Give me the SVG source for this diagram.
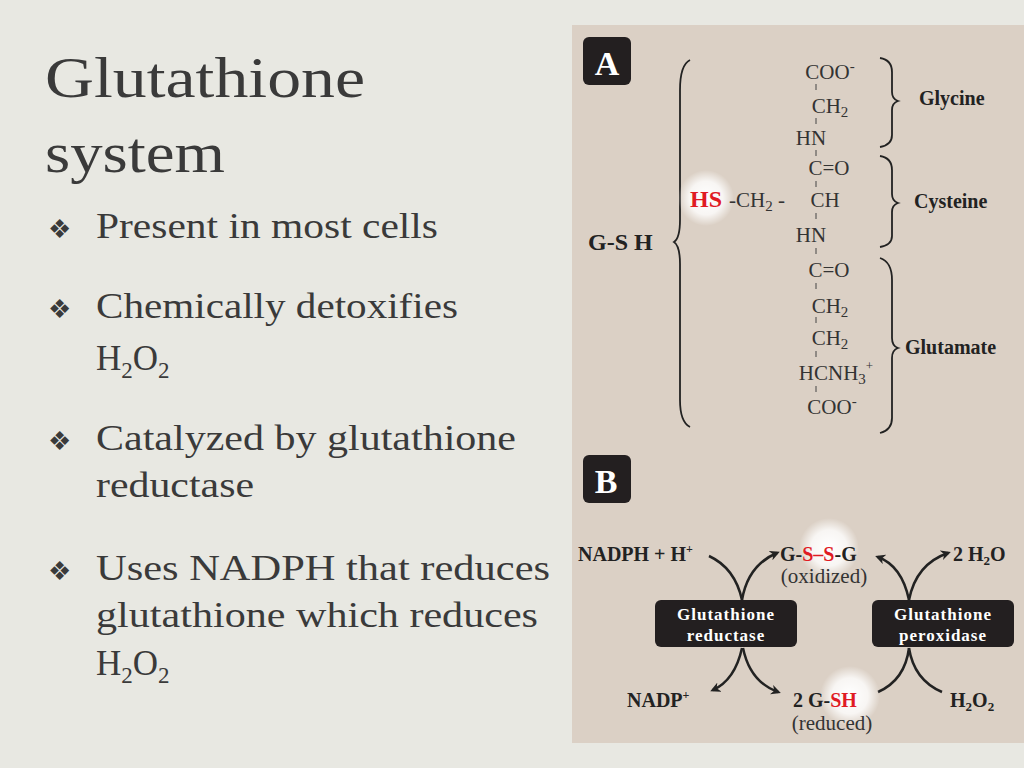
<svg xmlns="http://www.w3.org/2000/svg" width="1024" height="768" viewBox="0 0 1024 768">
<defs>
<style>
.t{font-family:"Liberation Serif",serif;fill:#3a3a3a}
.ch{font-family:"Liberation Serif",serif;fill:#333;font-size:21px}
.b{font-family:"Liberation Serif",serif;font-weight:bold;fill:#222}
.w{font-family:"Liberation Serif",serif;font-weight:bold;fill:#fff;font-size:17px;letter-spacing:1px}
.tk{stroke:#444;stroke-width:1}
.br{fill:none;stroke:#222;stroke-width:1.8}
.ar{fill:none;stroke:#222;stroke-width:2.5;marker-end:url(#ah)}
.ln{fill:none;stroke:#222;stroke-width:2.5}
</style>
<marker id="ah" viewBox="0 0 10 10" refX="7" refY="5" markerWidth="4" markerHeight="4" orient="auto"><path d="M0,0 L10,5 L0,10 L3,5 z" fill="#222"/></marker>
<radialGradient id="gl"><stop offset="0" stop-color="#fff"/><stop offset="0.6" stop-color="#fff" stop-opacity="0.8"/><stop offset="1" stop-color="#fff" stop-opacity="0"/></radialGradient>
</defs>
<rect width="1024" height="768" fill="#e8e8e2"/>
<g id="text">
<text class="t" x="45" y="97" font-size="56" textLength="320" lengthAdjust="spacingAndGlyphs">Glutathione</text>
<text class="t" x="45" y="172" font-size="56" textLength="180" lengthAdjust="spacingAndGlyphs">system</text>
<g font-size="35">
<text class="t" x="48" y="238" font-size="26">❖</text><text class="t" x="96" y="238" textLength="342" lengthAdjust="spacingAndGlyphs">Present in most cells</text>
<text class="t" x="48" y="318" font-size="26">❖</text><text class="t" x="96" y="318" textLength="362" lengthAdjust="spacingAndGlyphs">Chemically detoxifies</text>
<text class="t" x="96" y="370">H<tspan font-size="23" dy="8">2</tspan><tspan dy="-8">O</tspan><tspan font-size="23" dy="8">2</tspan></text>
<text class="t" x="48" y="450" font-size="26">❖</text><text class="t" x="96" y="450" textLength="420" lengthAdjust="spacingAndGlyphs">Catalyzed by glutathione</text>
<text class="t" x="96" y="497" textLength="158" lengthAdjust="spacingAndGlyphs">reductase</text>
<text class="t" x="48" y="580" font-size="26">❖</text><text class="t" x="96" y="580" textLength="454" lengthAdjust="spacingAndGlyphs">Uses NADPH that reduces</text>
<text class="t" x="96" y="627" textLength="442" lengthAdjust="spacingAndGlyphs">glutathione which reduces</text>
<text class="t" x="96" y="675">H<tspan font-size="23" dy="8">2</tspan><tspan dy="-8">O</tspan><tspan font-size="23" dy="8">2</tspan></text>
</g>
</g>
<rect x="572" y="25" width="452" height="718" fill="#dbd0c5"/>
<g id="panelA">
<rect x="583" y="37" width="48" height="48" rx="6" fill="#231f20"/>
<text x="607" y="75" text-anchor="middle" font-family="Liberation Serif,serif" font-weight="bold" font-size="34" fill="#fff">A</text>
<text class="b" x="588" y="250" font-size="24">G-S H</text>
<path class="br" d="M690,60 Q680,65 680,90 L680,220 Q680,238 674,242 Q680,246 680,264 L680,400 Q680,422 690,427"/>
<circle cx="706" cy="198" r="28" fill="url(#gl)"/>
<text x="690" y="207" font-family="Liberation Serif,serif" font-weight="bold" font-size="24" fill="#e01b24">HS</text>
<text class="ch" x="729" y="207">-CH<tspan font-size="15" dy="4">2</tspan><tspan dy="-4"> - </tspan></text>
<g text-anchor="middle">
<text class="ch" x="830" y="79">COO<tspan font-size="15" dy="-8">-</tspan></text>
<text class="ch" x="830" y="113">CH<tspan font-size="15" dy="4">2</tspan></text>
<text class="ch" x="811" y="145">HN</text>
<text class="ch" x="829" y="175">C=O</text>
<text class="ch" x="825" y="207">CH</text>
<text class="ch" x="811" y="242">HN</text>
<text class="ch" x="829" y="277">C=O</text>
<text class="ch" x="830" y="313">CH<tspan font-size="15" dy="4">2</tspan></text>
<text class="ch" x="830" y="345">CH<tspan font-size="15" dy="4">2</tspan></text>
<text class="ch" x="836" y="380">HCNH<tspan font-size="15" dy="4">3</tspan><tspan font-size="13" dy="-14">+</tspan></text>
<text class="ch" x="832" y="414">COO<tspan font-size="15" dy="-8">-</tspan></text>
</g>
<g class="tk">
<line x1="816" y1="84" x2="816" y2="90"/><line x1="816" y1="118" x2="816" y2="124"/><line x1="816" y1="150" x2="816" y2="156"/><line x1="816" y1="181" x2="816" y2="187"/><line x1="816" y1="213" x2="816" y2="219"/><line x1="816" y1="248" x2="816" y2="254"/><line x1="816" y1="283" x2="816" y2="289"/><line x1="816" y1="317" x2="816" y2="323"/><line x1="816" y1="351" x2="816" y2="357"/><line x1="816" y1="386" x2="816" y2="392"/>
</g>
<path class="br" d="M880,58 Q892,60 892,72 L892,92 Q892,99 898,101 Q892,103 892,110 L892,135 Q892,145 880,147"/>
<path class="br" d="M880,156 Q892,158 892,170 L892,194 Q892,201 898,203 Q892,205 892,212 L892,236 Q892,245 880,247"/>
<path class="br" d="M880,258 Q892,262 892,280 L892,338 Q892,346 898,348 Q892,350 892,358 L892,418 Q892,430 880,433"/>
<text class="b" x="919" y="105" font-size="20">Glycine</text>
<text class="b" x="914" y="208" font-size="20">Cysteine</text>
<text class="b" x="905" y="354" font-size="20">Glutamate</text>
</g>
<g id="connectors">
<path class="ln" d="M709,556 Q735,568 742,600"/>
<path class="ar" d="M742,600 Q748,565 777,553"/>
<path class="ar" d="M742,648 Q735,680 713,690"/>
<path class="ar" d="M743,648 Q750,682 778,692"/>
<path class="ln" d="M878,692 Q905,680 909,648"/>
<path class="ar" d="M909,600 Q902,566 878,557"/>
<path class="ln" d="M942,692 Q914,680 909,648"/>
<path class="ar" d="M909,600 Q916,564 948,553"/>
</g>
<g id="panelB">
<rect x="583" y="455" width="48" height="48" rx="6" fill="#231f20"/>
<text x="606" y="493" text-anchor="middle" font-family="Liberation Serif,serif" font-weight="bold" font-size="34" fill="#fff">B</text>
<circle cx="829" cy="548" r="30" fill="url(#gl)"/>
<circle cx="850" cy="696" r="30" fill="url(#gl)"/>
<text class="b" x="578" y="561" font-size="20">NADPH + H<tspan font-size="12" dy="-8">+</tspan></text>
<text class="b" x="780" y="561" font-size="20">G-<tspan fill="#e01b24">S–S</tspan>-G</text>
<text class="ch" x="824" y="583" font-size="17" text-anchor="middle">(oxidized)</text>
<text class="b" x="953" y="561" font-size="20">2 H<tspan font-size="13" dy="4">2</tspan><tspan dy="-4">O</tspan></text>
<text class="b" x="627" y="707" font-size="20">NADP<tspan font-size="12" dy="-8">+</tspan></text>
<text class="b" x="793" y="707" font-size="20">2 G-<tspan fill="#e01b24">SH</tspan></text>
<text class="ch" x="832" y="730" font-size="17" text-anchor="middle">(reduced)</text>
<text class="b" x="950" y="707" font-size="20">H<tspan font-size="13" dy="4">2</tspan><tspan dy="-4">O</tspan><tspan font-size="13" dy="4">2</tspan></text>
<g id="reductase"><rect x="655" y="600" width="142" height="47" rx="6" fill="#231f20"/>
<text class="w" x="726" y="620" text-anchor="middle">Glutathione</text><text class="w" x="726" y="641" text-anchor="middle">reductase</text></g>
<g id="peroxidase"><rect x="872" y="600" width="142" height="47" rx="6" fill="#231f20"/>
<text class="w" x="943" y="620" text-anchor="middle">Glutathione</text><text class="w" x="943" y="641" text-anchor="middle">peroxidase</text></g>
</g>
</svg>
